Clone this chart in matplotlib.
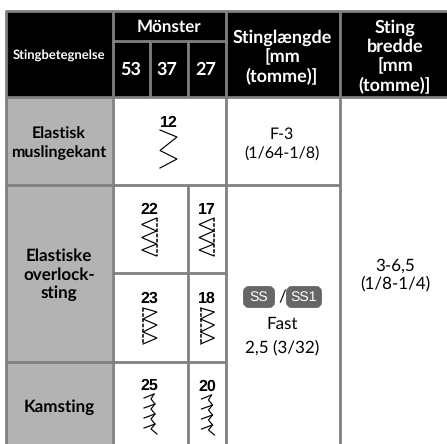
import matplotlib
matplotlib.use("Agg")
import matplotlib.pyplot as plt
from matplotlib.patches import Rectangle, FancyBboxPatch

plt.rcParams["text.hinting"] = "no_hinting"
plt.rcParams["text.hinting_factor"] = 1

stitch_names = ["Elastisk\nmuslingekant", "Elastiske\noverlock-\nsting", "Kamsting"]
pattern_head = "Mönster"
pattern_cols = ["53", "37", "27"]
name_head = "Stingbetegnelse"
length_head = ["Stinglængde", "[mm", "(tomme)]"]
width_head = ["Sting", "bredde", "[mm", "(tomme)]"]
length_top = ["F-3", "(1/64-1/8)"]
length_low = ["Fast", "2,5 (3/32)"]
width_vals = ["3-6,5", "(1/8-1/4)"]
chips = ["SS", "SS1"]
numbers = ["12", "22", "17", "23", "18", "25", "20"]

LINE = "#808080"
CELL = "#b3b3b3"
FONT = "Lato"
lw = 2.0

fig = plt.figure(figsize=(4.47, 4.44), dpi=100)
ax = fig.add_axes([0, 0, 1, 1])
ax.set_xlim(0, 447)
ax.set_ylim(444, 0)
ax.set_autoscale_on(False)
ax.axis("off")

# fills
ax.add_patch(Rectangle((6, 12), 441, 85, color="black", lw=0))
ax.add_patch(Rectangle((6, 97), 106, 347, color=CELL, lw=0))


def line(x0, y0, x1, y1):
    ax.plot([x0, x1], [y0, y1], color=LINE, lw=lw, solid_capstyle="butt", zorder=3)


line(5, 11.5, 447, 11.5)
line(5, 97.3, 447, 97.3)
line(5, 185, 339.5, 185)
line(5, 362, 226, 362)
line(112, 273, 226, 273)
line(112, 41, 226, 41)
line(6.2, 11, 6.2, 444)
line(112.5, 11, 112.5, 444)
line(226, 11, 226, 444)
line(339.5, 11, 339.5, 444)
line(149.5, 41, 149.5, 97)
line(187.8, 41, 187.8, 97)
line(187.8, 185, 187.8, 444)


def txt(x, y, s, color="black", weight="normal", size=12, family=FONT):
    ax.text(x, y + 1, s, color=color, fontweight=weight, fontsize=size, family=family,
            ha="center", va="center", zorder=5)


def stack(x, y, rows, dy, **kw):
    for i, r in enumerate(rows):
        txt(x, y + i * dy, r, **kw)


# header
txt(59, 55, name_head, color="white", weight="bold", size=9.5)
txt(169, 26, pattern_head, color="white", weight="bold", size=12.2)
for x, s in zip([131, 167, 206], pattern_cols):
    txt(x, 69, s, color="white", weight="bold", size=13)
stack(282, 37, length_head, 19, color="white", weight="bold", size=12.9)
stack(395, 27, width_head, 19, color="white", weight="bold", size=12.9)

# first column
for (y, dy, sz), name in zip([(133, 19, 11.4), (255, 18.5, 12.6), (406, 19, 12.6)], stitch_names):
    stack(59, y, name.split("\n"), dy, weight="bold", size=sz)

# values
stack(282, 133, length_top, 19, size=11.8)
stack(282, 323, length_low, 24, size=12.4)
stack(395, 265, width_vals, 18, size=12)

# SS chips
for (x0, x1), s in zip([(243, 275), (286, 322)], chips):
    ax.add_patch(FancyBboxPatch((x0 + 3, 289), x1 - x0 - 6, 16,
                                boxstyle="round,pad=0,rounding_size=3", mutation_aspect=1,
                                fc="#666666", ec="#666666", lw=4.2, zorder=4))
    txt((x0 + x1) / 2, 296.5, s, color="white", size=10.2, family="Liberation Sans")
txt(282, 296, "/", size=12)

# pattern numbers
for (x, y), s in zip([(169, 122), (149, 209), (207, 209), (149, 298), (207, 298), (149, 385), (207, 386)], numbers):
    txt(x, y, s, weight="bold", size=11.5, family="Liberation Sans")


def pline(xs, ys, ls="-", w=0.85):
    ax.plot(xs, ys, color="black", lw=w, ls=ls, solid_joinstyle="miter", zorder=4)


# stitch icons
pline([160, 177, 160, 177, 160], [130, 137, 150.5, 159, 168])
for x in [156.7, 214]:
    pline([x, x - 15, x, x - 15, x, x - 15, x], [218, 224.5, 231, 237.5, 244, 250, 256])
    pline([x, x], [218, 256], ls=(0, (2.4, 1)), w=1.1)
for x in [143, 200.5]:
    pline([x, x + 14, x, x + 14, x, x + 14, x], [308, 312, 319, 325, 332, 338, 344])
    pline([x, x], [308, 344], ls=(0, (2.4, 1)), w=1.1)
for dx, dy in [(0, 0), (57.5, 1)]:
    spine_x = [154, 151, 155, 151, 155, 151, 155, 151, 157]
    spine_y = [394, 399, 404, 409, 414, 419, 424, 429, 434]
    pline([v + dx for v in spine_x], [v + dy for v in spine_y])
    for i in [0, 2, 4, 6]:
        pline([spine_x[i] + dx, 144 + dx], [spine_y[i] + dy, spine_y[i] + 4 + dy])

fig.savefig("out.png", dpi=100)
